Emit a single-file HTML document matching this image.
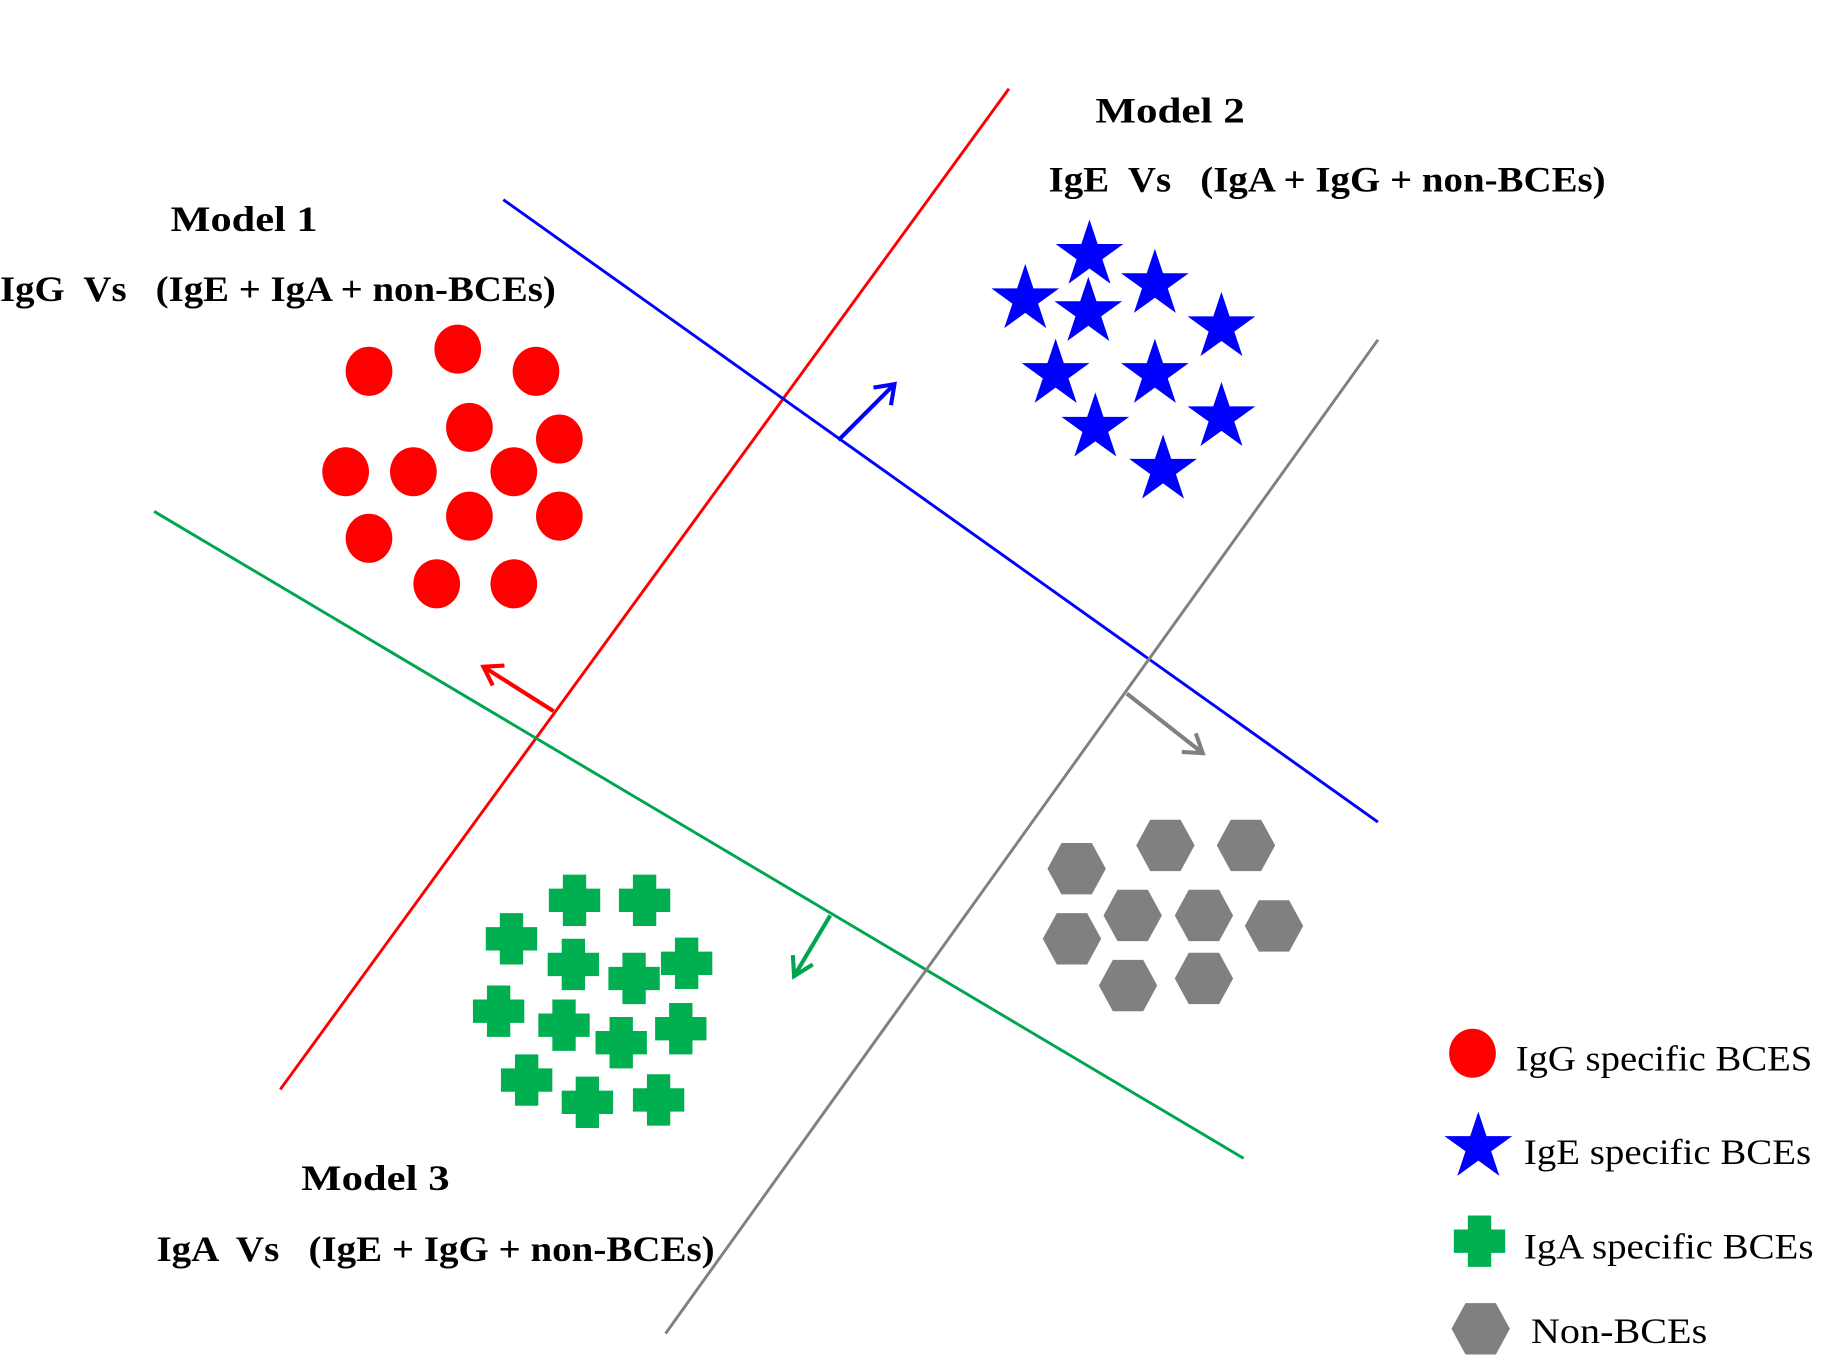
<!DOCTYPE html>
<html><head><style>html,body{margin:0;padding:0;background:#fff}svg{display:block}</style></head><body>
<svg width="1831" height="1372" viewBox="0 0 1568 1175" preserveAspectRatio="none" xmlns="http://www.w3.org/2000/svg">
<defs>
<polygon id="st" points="0,-30 7,-9 29,-9 11,4 18,25 0,12 -18,25 -11,4 -29,-9 -7,-9" fill="#0000ff"/>
<path id="cr" d="M-10,-22 h20 v12 h12 v20 h-12 v12 h-20 v-12 h-12 v-20 h12 z" fill="#00b050"/>
<polygon id="hx" points="-25,0 -13,-22 13,-22 25,0 13,22 -13,22" fill="#808080"/>
</defs>
<g stroke-width="2.5" fill="none">
<line x1="864" y1="76" x2="240" y2="933" stroke="#ff0000"/>
<line x1="431" y1="171" x2="1180" y2="704" stroke="#0000ff"/>
<line x1="132" y1="438" x2="1065" y2="992" stroke="#00a550"/>
<line x1="1180" y1="291" x2="570" y2="1142" stroke="#808080"/>
<path d="M718,377 L766,329 M748,332 L766,329 L763,347" stroke="#0000ff" stroke-width="3.5"/>
<path d="M474,609 L414,571 M432,570 L414,571 L422,587" stroke="#ff0000" stroke-width="3.5"/>
<path d="M965,594 L1030,645 M1012,644 L1030,645 L1024,628" stroke="#808080" stroke-width="3.5"/>
<path d="M711,784 L680,836 M679,818 L680,836 L696,826" stroke="#00a550" stroke-width="3.5"/>
</g>
<g fill="#ff0000">
<ellipse cx="316" cy="318" rx="20" ry="21"/><ellipse cx="392" cy="299" rx="20" ry="21"/><ellipse cx="459" cy="318" rx="20" ry="21"/>
<ellipse cx="402" cy="366" rx="20" ry="21"/><ellipse cx="479" cy="376" rx="20" ry="21"/><ellipse cx="296" cy="404" rx="20" ry="21"/>
<ellipse cx="354" cy="404" rx="20" ry="21"/><ellipse cx="440" cy="404" rx="20" ry="21"/><ellipse cx="402" cy="442" rx="20" ry="21"/>
<ellipse cx="479" cy="442" rx="20" ry="21"/><ellipse cx="316" cy="461" rx="20" ry="21"/><ellipse cx="374" cy="500" rx="20" ry="21"/>
<ellipse cx="440" cy="500" rx="20" ry="21"/>
<ellipse cx="1261" cy="902" rx="20" ry="21"/>
</g>
<use href="#st" x="933" y="218"/><use href="#st" x="989" y="243"/><use href="#st" x="878" y="256"/><use href="#st" x="932" y="267"/>
<use href="#st" x="1046" y="280"/><use href="#st" x="904" y="320"/><use href="#st" x="989" y="320"/><use href="#st" x="1046" y="357"/>
<use href="#st" x="938" y="366"/><use href="#st" x="996" y="402"/><use href="#st" x="1266" y="982"/>
<use href="#cr" x="492" y="771"/><use href="#cr" x="552" y="771"/><use href="#cr" x="438" y="804"/><use href="#cr" x="491" y="826"/>
<use href="#cr" x="588" y="825"/><use href="#cr" x="543" y="838"/><use href="#cr" x="427" y="866"/><use href="#cr" x="483" y="878"/>
<use href="#cr" x="583" y="881"/><use href="#cr" x="532" y="893"/><use href="#cr" x="451" y="925"/><use href="#cr" x="503" y="944"/>
<use href="#cr" x="564" y="942"/><use href="#cr" x="1267" y="1063"/>
<use href="#hx" x="922" y="744"/><use href="#hx" x="998" y="724"/><use href="#hx" x="1067" y="724"/><use href="#hx" x="970" y="784"/>
<use href="#hx" x="1031" y="784"/><use href="#hx" x="1091" y="793"/><use href="#hx" x="918" y="804"/><use href="#hx" x="966" y="844"/>
<use href="#hx" x="1031" y="838"/><use href="#hx" x="1268" y="1138"/>
<g font-family="Liberation Serif, serif" font-weight="bold" font-size="31" fill="#000">
<text x="146" y="198" textLength="126" lengthAdjust="spacingAndGlyphs">Model 1</text>
<text x="0" y="258" textLength="476" lengthAdjust="spacingAndGlyphs" xml:space="preserve">IgG  Vs   (IgE + IgA + non-BCEs)</text>
<text x="938" y="105" textLength="128" lengthAdjust="spacingAndGlyphs">Model 2</text>
<text x="898" y="164" textLength="477" lengthAdjust="spacingAndGlyphs" xml:space="preserve">IgE  Vs   (IgA + IgG + non-BCEs)</text>
<text x="258" y="1019" textLength="127" lengthAdjust="spacingAndGlyphs">Model 3</text>
<text x="134" y="1080" textLength="478" lengthAdjust="spacingAndGlyphs" xml:space="preserve">IgA  Vs   (IgE + IgG + non-BCEs)</text>
</g>
<g font-family="Liberation Serif, serif" font-size="31" fill="#000">
<text x="1298" y="917" textLength="254" lengthAdjust="spacingAndGlyphs">IgG specific BCES</text>
<text x="1305" y="997" textLength="246" lengthAdjust="spacingAndGlyphs">IgE specific BCEs</text>
<text x="1305" y="1078" textLength="248" lengthAdjust="spacingAndGlyphs">IgA specific BCEs</text>
<text x="1311" y="1150" textLength="151" lengthAdjust="spacingAndGlyphs">Non-BCEs</text>
</g>
</svg>
</body></html>
